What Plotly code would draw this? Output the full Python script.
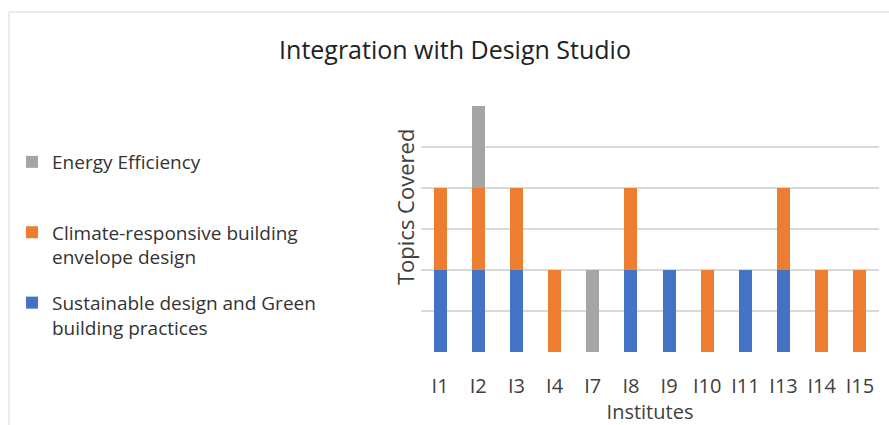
import plotly.graph_objects as go

institutes = ["I1", "I2", "I3", "I4", "I7", "I8", "I9", "I10", "I11", "I13", "I14", "I15"]
sustainable = [1, 1, 1, 0, 0, 1, 1, 0, 1, 1, 0, 0]
climate = [1, 1, 1, 1, 0, 1, 0, 1, 0, 1, 1, 1]
energy = [0, 1, 0, 0, 1, 0, 0, 0, 0, 0, 0, 0]

series_names = [
    "Sustainable design and Green<br>building practices",
    "Climate-responsive building<br>envelope design",
    "Energy Efficiency<br> ",
]
colors = ["#4472C4", "#ED7D31", "#A5A5A5"]
ranks = [3, 2, 1]

W, H = 889, 425
L, R, T, B = 421, 10, 106, 73
pw, ph = W - L - R, H - T - B

fig = go.Figure()
for name, vals, c, rk in zip(series_names, [sustainable, climate, energy], colors, ranks):
    fig.add_trace(go.Bar(x=institutes, y=vals, name=name, marker_color=c,
                         marker_line_width=0, legendgroup=name, legendrank=rk))

font = "Open Sans, Liberation Sans, sans-serif"

def px_x(p):
    return (p - L) / pw

def px_y(p):
    return (H - B - p) / ph

fig.update_layout(
    width=W, height=H,
    barmode="stack", bargap=0.66,
    plot_bgcolor="white", paper_bgcolor="white",
    margin=dict(l=L, r=R, t=T, b=B),
    font=dict(family=font, color="#404040"),
    title=dict(text="Integration with Design Studio", x=455 / W, xref="container",
               xanchor="center", y=1 - 50 / H, yref="container", yanchor="middle",
               font=dict(size=25, color="#222222", family=font)),
    legend=dict(xref="container", yref="container", x=12 / W, xanchor="left",
                y=1 - 143 / H, yanchor="top", traceorder="grouped",
                tracegroupgap=18, valign="top", font=dict(size=19, color="#333333"),
                bgcolor="rgba(0,0,0,0)"),
    xaxis=dict(showgrid=False, showline=False, ticks="", ticklabelstandoff=20,
               tickfont=dict(size=20, color="#404040"),
               title=dict(text="Institutes", font=dict(size=20, color="#404040"), standoff=0)),
    yaxis=dict(range=[0, 3], dtick=0.5, showticklabels=False, gridcolor="#D9D9D9",
               gridwidth=1.5, zeroline=False, showline=False),
    annotations=[
        dict(text="Topics Covered", textangle=-90, xref="paper", yref="paper",
             x=px_x(405), y=px_y(207), xanchor="center", yanchor="middle",
             showarrow=False, font=dict(size=22, color="#404040")),
    ],
    shapes=[
        dict(type="line", xref="paper", yref="paper", x0=px_x(9), x1=px_x(895),
             y0=px_y(12), y1=px_y(12), line=dict(color="#E3E3E3", width=1.5)),
        dict(type="line", xref="paper", yref="paper", x0=px_x(9), x1=px_x(9),
             y0=px_y(12), y1=px_y(430), line=dict(color="#E3E3E3", width=1.5)),
    ],
)

fig.write_html("out.html")
